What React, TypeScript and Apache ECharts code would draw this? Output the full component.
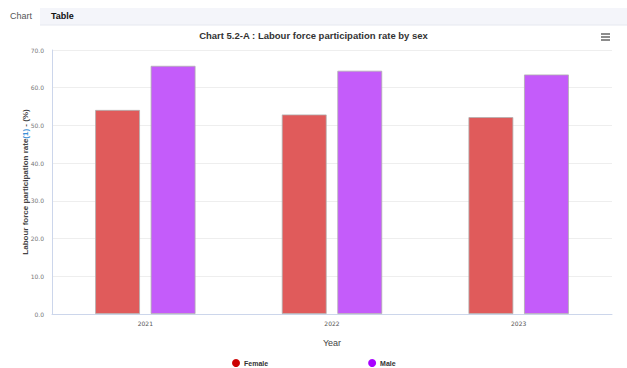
import React, { useEffect, useRef } from "react";
import * as echarts from "echarts";

const categories = ["2021", "2022", "2023"];
const femaleValues = [54.1, 52.9, 52.2];
const maleValues = [65.8, 64.5, 63.5];
const seriesNames = ["Female", "Male"];

export default function App() {
  const ref = useRef<HTMLDivElement>(null);
  useEffect(() => {
    if (!ref.current) return;
    const chart = echarts.init(ref.current, undefined, { renderer: "svg" });
    const font = "Liberation Sans, Arial, sans-serif";
    chart.setOption({
      animation: false,
      backgroundColor: "#ffffff",
      textStyle: { fontFamily: font },
      title: {
        text: "Chart 5.2-A : Labour force participation rate by sex",
        left: "center",
        top: 30,
        padding: 0,
        textStyle: { fontSize: 9.5, fontWeight: "bold", color: "#333333", fontFamily: font },
      },
      graphic: [
        { type: "rect", shape: { x: 40, y: 8, width: 587, height: 17 }, style: { fill: "#f4f5fa" } },
        { type: "line", shape: { x1: 40, y1: 25, x2: 627, y2: 25 }, style: { stroke: "#e6e8f0", lineWidth: 1 } },
        { type: "text", x: 10, y: 16, style: { text: "Chart", fill: "#555555", font: "9px Liberation Sans, Arial, sans-serif", verticalAlign: "middle" } },
        { type: "text", x: 51, y: 16, style: { text: "Table", fill: "#111111", font: "bold 9px Liberation Sans, Arial, sans-serif", verticalAlign: "middle" } },
        { type: "line", shape: { x1: 601, y1: 34, x2: 610, y2: 34 }, style: { stroke: "#666666", lineWidth: 1.5 } },
        { type: "line", shape: { x1: 601, y1: 37, x2: 610, y2: 37 }, style: { stroke: "#666666", lineWidth: 1.5 } },
        { type: "line", shape: { x1: 601, y1: 40, x2: 610, y2: 40 }, style: { stroke: "#666666", lineWidth: 1.5 } },
      ],
      legend: {
        left: 232,
        top: 359,
        padding: 0,
        itemGap: 100,
        itemWidth: 8,
        itemHeight: 8,
        icon: "circle",
        textStyle: { fontSize: 7, fontWeight: "bold", color: "#333333", fontFamily: font, padding: [0, 0, 0, -1] },
        data: [
          { name: seriesNames[0], itemStyle: { color: "#cc0000", borderWidth: 0 } },
          { name: seriesNames[1], itemStyle: { color: "#a800ff", borderWidth: 0 } },
        ],
      },
      grid: { left: 52, right: 15, top: 50, bottom: 54 },
      xAxis: {
        type: "category",
        data: categories,
        name: "Year",
        nameLocation: "middle",
        nameGap: 24,
        nameMoveOverlap: false,
        nameTextStyle: { fontSize: 9, color: "#444444", fontFamily: font },
        axisLine: { lineStyle: { color: "#ccd6eb" } },
        axisTick: { show: false },
        axisLabel: { fontSize: 6, color: "#555555", margin: 6, fontFamily: "DejaVu Sans, sans-serif" },
      },
      yAxis: {
        type: "value",
        min: 0,
        max: 70,
        interval: 10,
        name: "Labour force participation rate{link|(1)} - (%)",
        nameLocation: "middle",
        nameGap: 23,
        nameMoveOverlap: false,
        nameTextStyle: {
          fontSize: 8,
          fontWeight: "bold",
          color: "#444444",
          fontFamily: font,
          rich: { link: { fontSize: 8, color: "#3b8fd6", fontFamily: font } },
        },
        axisLine: { show: true, lineStyle: { color: "#ccd6eb" } },
        splitLine: { lineStyle: { color: "#eeeeee" } },
        axisLabel: {
          fontSize: 6,
          color: "#777777",
          margin: 8,
          fontFamily: "DejaVu Sans, sans-serif",
          formatter: (v: number) => v.toFixed(1),
        },
      },
      series: [
        {
          name: seriesNames[0],
          type: "bar",
          data: femaleValues,
          barWidth: "24%",
          barGap: "24%",
          itemStyle: { color: "#e05b5b", borderColor: "#b0b0b0", borderWidth: 0.8 },
        },
        {
          name: seriesNames[1],
          type: "bar",
          data: maleValues,
          barWidth: "24%",
          itemStyle: { color: "#c45cfa", borderColor: "#b0b0b0", borderWidth: 0.8 },
        },
      ],
    });
    return () => chart.dispose();
  }, []);
  return (
    <div
      ref={ref}
      style={{ position: "fixed", left: 0, top: 0, width: 627, height: 368 }}
    />
  );
}
